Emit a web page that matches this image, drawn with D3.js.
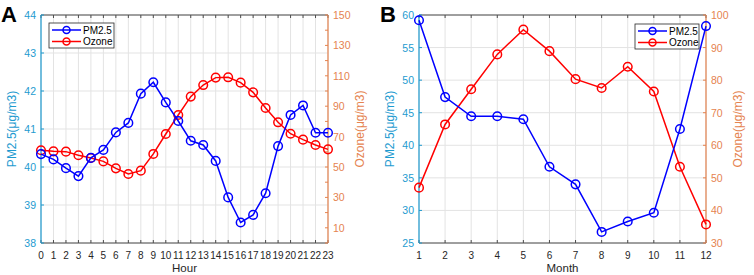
<!DOCTYPE html>
<html>
<head>
<meta charset="utf-8">
<script src="https://cdn.jsdelivr.net/npm/d3@7"></script>
<style>
  body { margin: 0; background: #fff; }
  text { font-family: "Liberation Sans", Arial, sans-serif; }
</style>
</head>
<body>
<div id="chart"></div>
<script>
// Data
const hours = d3.range(0, 24)
const pmHour = [40.34, 40.20, 39.97, 39.76, 40.24, 40.45, 40.91, 41.16, 41.93, 42.23, 41.70, 41.21,
  40.69, 40.58, 40.16, 39.20, 38.54, 38.74, 39.31, 40.55, 41.37, 41.62, 40.90, 40.90]
const ozoneHour = [61.0, 60.3, 60.1, 57.7, 55.9, 53.7, 49.1, 45.4, 47.6, 58.6, 71.7, 84.2,
  96.3, 103.9, 108.8, 109.0, 105.5, 99.1, 88.8, 79.4, 71.9, 68.0, 64.5, 61.6]

const months = d3.range(1, 13)
const pmMonth = [59.2, 47.4, 44.45, 44.45, 44.0, 36.7, 34.0, 26.7, 28.3, 29.65, 42.5, 58.3]
const ozoneMonth = [47.0, 66.4, 77.2, 87.9, 95.5, 88.9, 80.3, 77.6, 84.1, 76.5, 53.4, 35.7]

const hourTicks = d3.range(0, 24)
const monthTicks = d3.range(1, 13)
const pmHourTicks = [38, 39, 40, 41, 42, 43, 44]
const ozoneHourTicks = d3.range(0, 151, 10)
const ozoneHourLabels = [10, 30, 50, 70, 90, 110, 130, 150]
const pmMonthTicks = [25, 30, 35, 40, 45, 50, 55, 60]
const ozoneMonthTicks = [30, 40, 50, 60, 70, 80, 90, 100]

// Dimensions
const dimensions = { width: 754, height: 275, top: 15, bottom: 243 }
const leftColor = '#1e9bd0'
const rightColor = '#e5834f'
const pmColor = '#0000ff'
const ozColor = '#ff0000'

const svg = d3.select('#chart')
  .append('svg')
  .attr('width', dimensions.width)
  .attr('height', dimensions.height)

function drawPanel(cfg) {
  const g = svg.append('g')

  const x = d3.scaleLinear().domain(cfg.xDomain).range([cfg.left, cfg.right])
  const yL = d3.scaleLinear().domain(cfg.leftDomain).range([dimensions.bottom, dimensions.top])
  const yR = d3.scaleLinear().domain(cfg.rightDomain).range([dimensions.bottom, dimensions.top])

  // grid
  g.append('g').selectAll('line')
    .data(cfg.xTicks)
    .join('line')
    .attr('x1', d => x(d)).attr('x2', d => x(d))
    .attr('y1', dimensions.top).attr('y2', dimensions.bottom)
    .attr('stroke', '#e3e3e3').attr('stroke-width', 1)
  g.append('g').selectAll('line')
    .data(cfg.leftTicks)
    .join('line')
    .attr('x1', cfg.left).attr('x2', cfg.right)
    .attr('y1', d => yL(d)).attr('y2', d => yL(d))
    .attr('stroke', '#e3e3e3').attr('stroke-width', 1)

  // box top/bottom
  g.append('line')
    .attr('x1', cfg.left).attr('x2', cfg.right)
    .attr('y1', dimensions.top).attr('y2', dimensions.top)
    .attr('stroke', '#4d4d4d')
  g.append('line')
    .attr('x1', cfg.left).attr('x2', cfg.right)
    .attr('y1', dimensions.bottom).attr('y2', dimensions.bottom)
    .attr('stroke', '#4d4d4d')

  // x ticks (inward, top and bottom)
  const xt = g.append('g')
  xt.selectAll('line.b')
    .data(cfg.xTicks)
    .join('line')
    .attr('x1', d => x(d)).attr('x2', d => x(d))
    .attr('y1', dimensions.bottom).attr('y2', dimensions.bottom - 3)
    .attr('stroke', '#4d4d4d')
  xt.selectAll('line.t')
    .data(cfg.xTicks)
    .join('line')
    .attr('x1', d => x(d)).attr('x2', d => x(d))
    .attr('y1', dimensions.top).attr('y2', dimensions.top + 3)
    .attr('stroke', '#4d4d4d')
  xt.selectAll('text')
    .data(cfg.xTicks)
    .join('text')
    .attr('x', d => x(d))
    .attr('y', 259)
    .attr('text-anchor', 'middle')
    .attr('font-size', 10)
    .attr('fill', '#262626')
    .text(d => d)
  g.append('text')
    .attr('x', (cfg.left + cfg.right) / 2)
    .attr('y', 272)
    .attr('text-anchor', 'middle')
    .attr('font-size', 11.5)
    .attr('fill', '#262626')
    .text(cfg.xLabel)

  // left axis
  g.append('line')
    .attr('x1', cfg.left).attr('x2', cfg.left)
    .attr('y1', dimensions.top).attr('y2', dimensions.bottom)
    .attr('stroke', leftColor).attr('stroke-width', 1.2)
  g.append('g').selectAll('line')
    .data(cfg.leftTicks)
    .join('line')
    .attr('x1', cfg.left).attr('x2', cfg.left + 3)
    .attr('y1', d => yL(d)).attr('y2', d => yL(d))
    .attr('stroke', leftColor)
  g.append('g').selectAll('text')
    .data(cfg.leftTicks)
    .join('text')
    .attr('x', cfg.left - 5)
    .attr('y', d => yL(d) + 4)
    .attr('text-anchor', 'end')
    .attr('font-size', 10.5)
    .attr('fill', leftColor)
    .text(d => d)
  g.append('text')
    .attr('transform', `translate(${cfg.left - 25}, ${(dimensions.top + dimensions.bottom) / 2}) rotate(-90)`)
    .attr('text-anchor', 'middle')
    .attr('font-size', 12)
    .attr('fill', leftColor)
    .text('PM2.5(μg/m3)')

  // right axis
  g.append('line')
    .attr('x1', cfg.right).attr('x2', cfg.right)
    .attr('y1', dimensions.top).attr('y2', dimensions.bottom)
    .attr('stroke', rightColor).attr('stroke-width', 1.2)
  g.append('g').selectAll('line')
    .data(cfg.rightTicks)
    .join('line')
    .attr('x1', cfg.right).attr('x2', cfg.right - 3)
    .attr('y1', d => yR(d)).attr('y2', d => yR(d))
    .attr('stroke', rightColor)
  g.append('g').selectAll('text')
    .data(cfg.rightLabels)
    .join('text')
    .attr('x', cfg.right + 5)
    .attr('y', d => yR(d) + 4)
    .attr('font-size', 10.5)
    .attr('fill', rightColor)
    .text(d => d)
  g.append('text')
    .attr('transform', `translate(${cfg.right + 36}, ${(dimensions.top + dimensions.bottom) / 2}) rotate(-90)`)
    .attr('text-anchor', 'middle')
    .attr('font-size', 12)
    .attr('fill', rightColor)
    .text('Ozone(μg/m3)')

  // series
  const series = [
    { name: 'PM2.5', color: pmColor, y: yL, values: cfg.pm },
    { name: 'Ozone', color: ozColor, y: yR, values: cfg.ozone },
  ]
  series.slice().reverse().forEach(s => {
    const line = d3.line()
      .x((d, i) => x(cfg.xValues[i]))
      .y(d => s.y(d))
    g.append('path')
      .attr('d', line(s.values))
      .attr('fill', 'none')
      .attr('stroke', s.color)
      .attr('stroke-width', 1.5)
    g.append('g').selectAll('circle')
      .data(s.values)
      .join('circle')
      .attr('cx', (d, i) => x(cfg.xValues[i]))
      .attr('cy', d => s.y(d))
      .attr('r', 4.3)
      .attr('fill', 'none')
      .attr('stroke', s.color)
      .attr('stroke-width', 1.5)
  })

  // legend
  const lg = g.append('g').attr('transform', `translate(${cfg.legend[0]}, ${cfg.legend[1]})`)
  lg.append('rect')
    .attr('width', cfg.legend[2]).attr('height', 25)
    .attr('fill', '#fff').attr('stroke', '#262626').attr('stroke-width', 0.8)
  series.forEach((s, i) => {
    const yy = 7 + i * 11.5
    lg.append('line')
      .attr('x1', 3).attr('x2', 32)
      .attr('y1', yy).attr('y2', yy)
      .attr('stroke', s.color).attr('stroke-width', 1.5)
    lg.append('circle')
      .attr('cx', 17.5).attr('cy', yy).attr('r', 3.5)
      .attr('fill', 'none').attr('stroke', s.color).attr('stroke-width', 1.5)
    lg.append('text')
      .attr('x', 34).attr('y', yy + 3.5)
      .attr('font-size', 10)
      .attr('fill', '#000')
      .text(s.name)
  })

  // panel letter
  svg.append('text')
    .attr('x', cfg.letterX).attr('y', 22)
    .attr('font-size', 22)
    .attr('font-weight', 'bold')
    .attr('fill', '#000')
    .text(cfg.letter)
}

drawPanel({
  letter: 'A', letterX: 1,
  left: 41, right: 328,
  xDomain: [0, 23], xTicks: hourTicks, xValues: hours, xLabel: 'Hour',
  leftDomain: [38, 44], leftTicks: pmHourTicks,
  rightDomain: [0, 150], rightTicks: ozoneHourTicks, rightLabels: ozoneHourLabels,
  pm: pmHour, ozone: ozoneHour,
  legend: [49, 23, 65],
})

drawPanel({
  letter: 'B', letterX: 380,
  left: 419, right: 706,
  xDomain: [1, 12], xTicks: monthTicks, xValues: months, xLabel: 'Month',
  leftDomain: [25, 60], leftTicks: pmMonthTicks,
  rightDomain: [30, 100], rightTicks: ozoneMonthTicks, rightLabels: ozoneMonthTicks,
  pm: pmMonth, ozone: ozoneMonth,
  legend: [635, 24, 64],
})
</script>
</body>
</html>
